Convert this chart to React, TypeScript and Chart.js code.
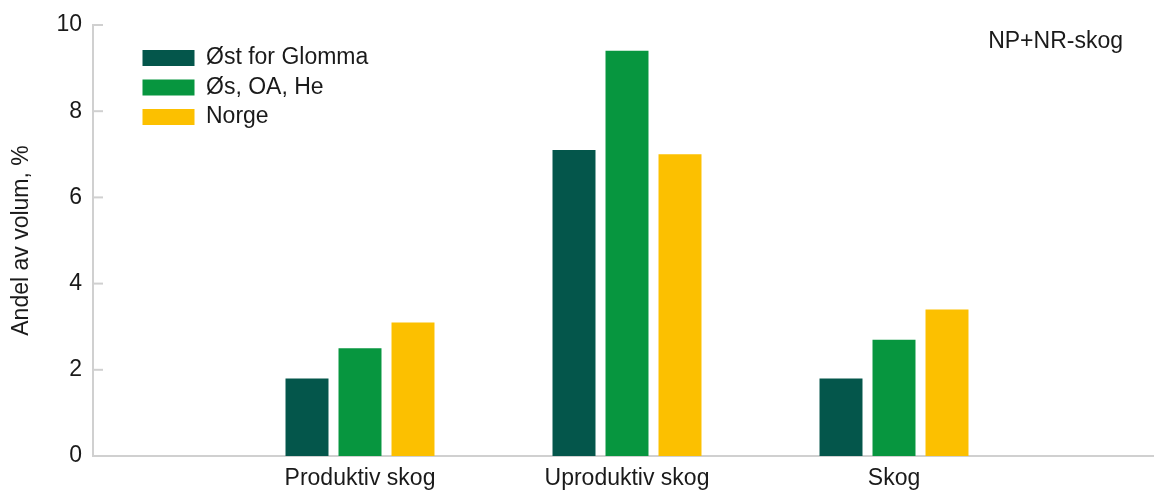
import React, { useEffect, useRef } from "react";
import { Chart, registerables } from "chart.js";

Chart.register(...registerables);

const categories = ["", "Produktiv skog", "Uproduktiv skog", "Skog", ""];
const seriesNames = ["Øst for Glomma", "Øs, OA, He", "Norge"];
const ostForGlomma = [null, 1.8, 7.1, 1.8, null];
const osOaHe = [null, 2.5, 9.4, 2.7, null];
const norge = [null, 3.1, 7.0, 3.4, null];
const seriesColors = ["#04564b", "#07963f", "#fcc000"];
const yTicks = [0, 2, 4, 6, 8, 10];
const cornerNote = "NP+NR-skog";
const yTitle = "Andel av volum, %";

const FONT = "'Liberation Sans', Arial, sans-serif";
const AXIS_COLOR = "#d0d0d0";

const extrasPlugin = {
  id: "extras",
  afterLayout(chart: any) {
    const lg = chart.legend;
    if (lg) {
      lg.left += 43;
      lg.right += 43;
      lg.top += 40;
      lg.bottom += 40;
    }
  },
  afterDraw(chart: any) {
    const ctx = chart.ctx;
    const y = chart.scales.y;
    const area = chart.chartArea;
    ctx.save();
    ctx.strokeStyle = AXIS_COLOR;
    ctx.lineWidth = 2;
    y.ticks.forEach((t: any) => {
      const py = y.getPixelForValue(t.value);
      ctx.beginPath();
      ctx.moveTo(area.left, py);
      ctx.lineTo(area.left + 10, py);
      ctx.stroke();
    });
    ctx.fillStyle = "#1a1a1a";
    ctx.font = `23px ${FONT}`;
    ctx.textAlign = "right";
    ctx.textBaseline = "alphabetic";
    ctx.fillText(cornerNote, area.right - 38, 48);
    ctx.restore();
  },
};

export default function App() {
  const ref = useRef<HTMLCanvasElement>(null);
  useEffect(() => {
    if (!ref.current) return;
    const chart = new Chart(ref.current, {
      type: "bar",
      data: {
        labels: categories,
        datasets: [ostForGlomma, osOaHe, norge].map((d, i) => ({
          label: seriesNames[i],
          data: d as any,
          backgroundColor: seriesColors[i],
          borderWidth: 0,
          categoryPercentage: 0.5955,
          barPercentage: 0.811,
        })),
      },
      options: {
        animation: false,
        responsive: false,
        maintainAspectRatio: false,
        layout: { padding: { top: 25, right: 9, left: 0, bottom: 0 } },
        plugins: {
          legend: {
            position: "chartArea" as any,
            align: "start",
            labels: {
              boxWidth: 52,
              boxHeight: 16,
              padding: 6.5,
              color: "#1a1a1a",
              font: { family: FONT, size: 23 },
            },
          },
          tooltip: { enabled: false },
        },
        scales: {
          x: {
            offset: false,
            grid: { display: false, drawTicks: false },
            border: { display: true, color: AXIS_COLOR, width: 2 },
            ticks: {
              autoSkip: false,
              maxRotation: 0,
              padding: 9,
              color: "#1a1a1a",
              font: { family: FONT, size: 23 },
            },
            afterFit(scale: any) {
              scale.height = 37;
            },
          },
          y: {
            min: 0,
            max: 10,
            afterBuildTicks(scale: any) {
              scale.ticks = yTicks.map((v) => ({ value: v }));
            },
            grid: { display: false, drawTicks: false },
            border: { display: true, color: AXIS_COLOR, width: 2 },
            ticks: {
              padding: 11,
              color: "#1a1a1a",
              font: { family: FONT, size: 23 },
            },
            title: {
              display: true,
              text: yTitle,
              color: "#1a1a1a",
              font: { family: FONT, size: 23 },
              padding: { top: 8, bottom: 0 },
            },
            afterFit(scale: any) {
              scale.width = 93;
            },
          },
        },
      },
      plugins: [extrasPlugin],
    });
    return () => chart.destroy();
  }, []);
  return (
    <div
      style={{
        position: "absolute",
        left: 0,
        top: 0,
        width: 1154,
        height: 493,
        overflow: "hidden",
        background: "#fff",
      }}
    >
      <canvas ref={ref} width={1170} height={493} style={{ width: 1170, height: 493, display: "block" }} />
    </div>
  );
}
